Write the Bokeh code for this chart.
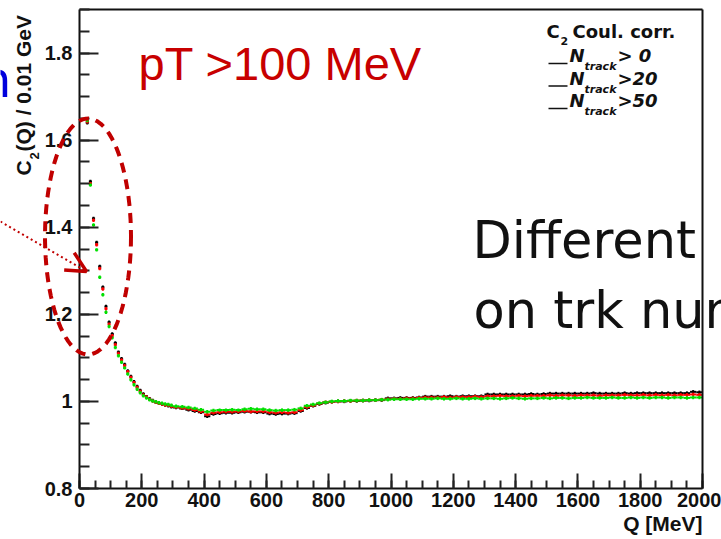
import math
import numpy as np
from bokeh.plotting import figure
from bokeh.models import Range1d, Label, Arrow, OpenHead, PolyAnnotation, FixedTicker, LinearAxis
from bokeh.embed import file_html
from bokeh.resources import INLINE

# ---------------- data ----------------
Q_LOW = list(range(25, 300, 10))          # 10 MeV bins
Q_HIGH = list(range(310, 2000, 20))       # 20 MeV bins above 300 MeV
BIN_LOW = 10
BIN_HIGH = 20
ERR = 0.004

BLACK_LOW = [1.640, 1.505, 1.420, 1.365, 1.310, 1.262, 1.218, 1.182, 1.155, 1.134,
             1.113, 1.098, 1.085, 1.070, 1.057, 1.045, 1.034, 1.025, 1.017, 1.011,
             1.006, 1.002, 0.998, 0.996, 0.994, 0.992, 0.990, 0.988]
RED_LOW = [1.642, 1.500, 1.416, 1.360, 1.305, 1.258, 1.213, 1.177, 1.151, 1.130,
           1.110, 1.095, 1.082, 1.068, 1.055, 1.043, 1.032, 1.023, 1.015, 1.010,
           1.005, 1.001, 0.998, 0.996, 0.994, 0.992, 0.991, 0.989]
GREEN_LOW = [1.645, 1.497, 1.405, 1.348, 1.285, 1.245, 1.205, 1.172, 1.146, 1.124,
             1.105, 1.090, 1.077, 1.063, 1.050, 1.038, 1.028, 1.020, 1.013, 1.008,
             1.004, 1.001, 0.999, 0.997, 0.996, 0.994, 0.993, 0.991]

BLACK_HIGH = [0.986, 0.984, 0.981, 0.978, 0.975, 0.966, 0.971, 0.973, 0.974, 0.974,
              0.975, 0.976, 0.976, 0.975, 0.975, 0.972, 0.971, 0.972, 0.972, 0.973,
              0.978, 0.985, 0.990, 0.994, 0.997, 0.999, 1.000, 1.000, 1.001, 1.001,
              1.002, 1.002, 1.003, 1.003, 1.007, 1.007, 1.008, 1.008, 1.008, 1.009,
              1.011, 1.011, 1.011, 1.011, 1.012, 1.011, 1.012, 1.012, 1.012, 1.012,
              1.016, 1.016, 1.016, 1.016, 1.016, 1.016, 1.016, 1.017, 1.016, 1.017,
              1.018, 1.018, 1.018, 1.018, 1.018, 1.018, 1.018, 1.019, 1.018, 1.018,
              1.018, 1.018, 1.019, 1.018, 1.019, 1.019, 1.019, 1.019, 1.019, 1.019,
              1.019, 1.019, 1.019, 1.022, 1.021]
RED_HIGH = [0.987, 0.985, 0.983, 0.980, 0.977, 0.970, 0.974, 0.975, 0.976, 0.976,
            0.977, 0.978, 0.977, 0.977, 0.977, 0.975, 0.974, 0.975, 0.974, 0.975,
            0.980, 0.987, 0.991, 0.995, 0.998, 0.999, 1.000, 1.001, 1.001, 1.002,
            1.002, 1.003, 1.003, 1.004, 1.005, 1.006, 1.006, 1.007, 1.007, 1.008,
            1.009, 1.009, 1.009, 1.010, 1.009, 1.010, 1.010, 1.010, 1.011, 1.010,
            1.012, 1.012, 1.013, 1.012, 1.012, 1.013, 1.012, 1.013, 1.013, 1.013,
            1.014, 1.013, 1.014, 1.014, 1.013, 1.014, 1.014, 1.014, 1.013, 1.014,
            1.014, 1.014, 1.015, 1.014, 1.014, 1.015, 1.014, 1.015, 1.014, 1.015,
            1.014, 1.015, 1.015, 1.016, 1.015]
GREEN_HIGH = [0.989, 0.988, 0.986, 0.984, 0.981, 0.976, 0.979, 0.980, 0.980, 0.981,
              0.980, 0.982, 0.983, 0.982, 0.982, 0.980, 0.979, 0.980, 0.980, 0.981,
              0.984, 0.990, 0.993, 0.996, 0.998, 1.000, 1.001, 1.001, 1.002, 1.002,
              1.002, 1.003, 1.003, 1.004, 1.004, 1.005, 1.005, 1.005, 1.005, 1.006,
              1.006, 1.006, 1.007, 1.006, 1.006, 1.007, 1.006, 1.006, 1.007, 1.006,
              1.007, 1.007, 1.006, 1.007, 1.008, 1.007, 1.006, 1.007, 1.007, 1.008,
              1.007, 1.008, 1.008, 1.007, 1.008, 1.008, 1.009, 1.008, 1.008, 1.008,
              1.009, 1.008, 1.008, 1.009, 1.008, 1.009, 1.008, 1.009, 1.009, 1.008,
              1.009, 1.009, 1.008, 1.009, 1.009]

SERIES = [("#000000", BLACK_LOW, BLACK_HIGH),
          ("#ff0000", RED_LOW, RED_HIGH),
          ("#00e000", GREEN_LOW, GREEN_HIGH)]

X_MIN, X_MAX = 0, 2000
Y_MIN, Y_MAX = 0.8, 1.9
X_TICKS = [0, 200, 400, 600, 800, 1000, 1200, 1400, 1600, 1800, 2000]
X_MINOR = list(range(0, 2001, 50))
Y_TICKS = [0.8, 1.0, 1.2, 1.4, 1.6, 1.8]
Y_TICK_LABELS = ["0.8", "1", "1.2", "1.4", "1.6", "1.8"]
Y_MINOR = [0.8 + 0.05 * i for i in range(23)]

LEGEND_TITLE = "Coul. corr."
LEGEND_CUTS = ["> 0", ">20", ">50"]

# ---------------- figure geometry ----------------
W, H = 721, 539
FL, FR, FT, FB = 79, 702, 9, 488          # where the axes box sits on the canvas
xs = (FR - FL) / (X_MAX - X_MIN)
ys = (FB - FT) / (Y_MAX - Y_MIN)
x_range = Range1d(X_MIN - FL / xs, X_MAX + (W - FR) / xs)
y_range = Range1d(Y_MIN - (H - FB) / ys, Y_MAX + FT / ys)

p = figure(width=W, height=H, output_backend="svg", toolbar_location=None,
           x_range=x_range, y_range=y_range,
           min_border_left=0, min_border_right=0, min_border_top=0, min_border_bottom=0)
p.background_fill_color = "white"
p.border_fill_color = "white"
p.xgrid.visible = False
p.ygrid.visible = False
p.outline_line_color = None

p.xaxis.fixed_location = Y_MIN
p.yaxis.fixed_location = X_MIN
p.xaxis.bounds = (X_MIN, X_MAX)
p.yaxis.bounds = (Y_MIN, Y_MAX)

for ax in (p.xaxis[0], p.yaxis[0]):
    ax.axis_line_width = 2
    ax.axis_line_color = "#111111"
    ax.major_tick_line_width = 2
    ax.minor_tick_line_width = 2
    ax.major_tick_line_color = "#222222"
    ax.minor_tick_line_color = "#222222"
    ax.major_tick_out = 0
    ax.minor_tick_out = 0
    ax.major_label_text_font = "Liberation Sans"
    ax.major_label_text_font_style = "bold"
    ax.major_label_text_font_size = "20px"
    ax.major_label_text_color = "#111111"

p.xaxis.ticker = FixedTicker(ticks=X_TICKS, minor_ticks=X_MINOR)
p.yaxis.ticker = FixedTicker(ticks=Y_TICKS, minor_ticks=Y_MINOR)
p.yaxis.major_label_overrides = {t: s for t, s in zip(Y_TICKS, Y_TICK_LABELS)}
p.xaxis.major_tick_in = 15
p.xaxis.minor_tick_in = 8
p.yaxis.major_tick_in = 19
p.yaxis.minor_tick_in = 10
p.xaxis.major_label_standoff = 4
p.yaxis.major_label_standoff = 7

# top and right frame lines (axes without ticks)
top_ax = LinearAxis(fixed_location=Y_MAX, bounds=(X_MIN, X_MAX),
                    ticker=FixedTicker(ticks=[], minor_ticks=[]),
                    axis_line_width=2, axis_line_color="#111111")
right_ax = LinearAxis(fixed_location=X_MAX, bounds=(Y_MIN, Y_MAX),
                      ticker=FixedTicker(ticks=[], minor_ticks=[]),
                      axis_line_width=2, axis_line_color="#111111")
p.add_layout(top_ax, "above")
p.add_layout(right_ax, "right")

# ---------------- data marks ----------------
for color, low, high in SERIES:
    q = np.array(Q_LOW + Q_HIGH, dtype=float)
    v = np.array(low + high, dtype=float)
    hw = np.array([BIN_LOW / 2] * len(Q_LOW) + [BIN_HIGH / 2] * len(Q_HIGH))
    p.segment(x0=q - hw, x1=q + hw, y0=v, y1=v, line_color=color, line_width=2)
    p.segment(x0=q, x1=q, y0=v - ERR, y1=v + ERR, line_color=color, line_width=2)

# ---------------- annotations (screen pixels; frame == canvas) ----------------
K = 0.42  # baseline compensation (fraction of font size)


def lab(text, cx, cy, size, color="#111111", style="bold", font="Liberation Sans",
        align="left", angle=0.0):
    dy = K * size
    if angle:
        sx, sy = cx - dy, H - cy
    else:
        sx, sy = cx, H - cy + dy
    p.add_layout(Label(x=sx, y=sy, x_units="screen", y_units="screen",
                       text=text, text_font=font, text_font_style=style,
                       text_font_size=f"{size}px", text_color=color, text_align=align,
                       text_baseline="alphabetic", angle=angle))


# y-axis title (rotated)
lab("C", 32, 175, 21, angle=math.pi / 2)
lab("2", 39, 159, 13, angle=math.pi / 2)
lab("(Q) / 0.01 GeV", 32, 151, 21, angle=math.pi / 2)
# x-axis title
lab("Q [MeV]", 702, 532, 21, align="right")

# legend
LF = "DejaVu Sans"
lab("C", 546, 39, 18, font=LF)
lab("2", 560, 45, 11, font=LF)
lab(LEGEND_TITLE, 572, 39, 18, font=LF)
for i, cut in enumerate(LEGEND_CUTS):
    by = 63 + 22.5 * i
    p.add_layout(Arrow(end=None, x_start=548, y_start=H - by, x_end=567, y_end=H - by,
                       start_units="screen", end_units="screen",
                       line_color="#111111", line_width=1.5))
    lab("N", 569, by, 18, style="bold italic", font=LF)
    lab("track", 584, by + 8, 11, style="bold italic", font=LF)
    lab(cut, 617, by, 18, style="bold italic", font=LF)

# red header
lab("pT >100 MeV", 138, 83, 47, color="#c80000", style="normal")

# slide texts
lab("Different", 472, 261, 51, style="normal", font="DejaVu Sans")
lab("on trk num", 473, 331, 51, style="normal", font="DejaVu Sans")
lab("n", 11, 100, 50, color="#0000dd", style="normal", font="DejaVu Sans", align="right")

# dashed ellipse
cx0, cy0, rx, ry = 87.5, 236.0, 43.0, 118.0
ang = np.linspace(0, 2 * math.pi, 90)
p.add_layout(PolyAnnotation(xs=list(cx0 + rx * np.cos(ang)), ys=list(H - (cy0 + ry * np.sin(ang))),
                            xs_units="screen", ys_units="screen", fill_alpha=0,
                            line_color="#c00000", line_alpha=1.0, line_width=4, line_dash="10 7"))

# dotted arrow
p.add_layout(Arrow(x_start=0, y_start=H - 221, x_end=86, y_end=H - 271,
                   start_units="screen", end_units="screen",
                   line_color="#c00000", line_width=2, line_dash="2 3",
                   end=OpenHead(size=20, line_color="#c00000", line_width=3.5)))

open("out.html", "w").write(file_html(p, INLINE))
